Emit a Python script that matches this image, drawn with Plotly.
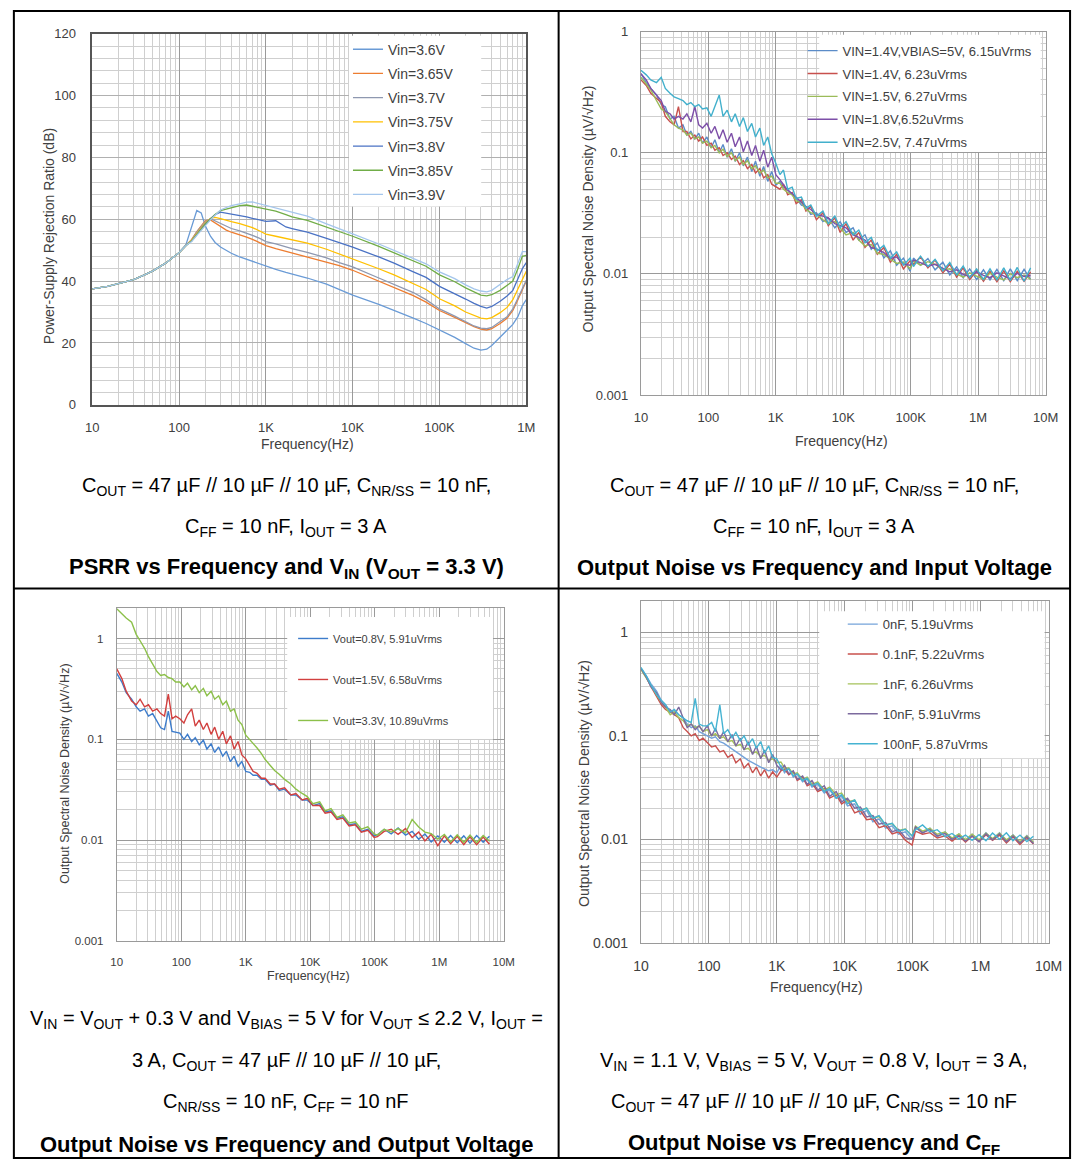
import plotly.graph_objects as go

W, H = 1087, 1168
FONT = "Arial, 'Liberation Sans', Helvetica, sans-serif"

# ---------------- Panel 1 : PSRR vs frequency and VIN ----------------
psrr_freq = [10, 15, 20, 30, 40, 50, 70, 100, 120, 140, 160, 180, 200, 230, 260, 300, 350, 400,
             500, 600, 700, 850, 1000, 1300, 1700, 2000, 3000, 5000, 7000, 10000, 20000, 30000,
             50000, 70000, 100000, 150000, 200000, 250000, 300000, 350000, 400000, 500000,
             600000, 700000, 800000, 900000, 1000000]
psrr_names = ["Vin=3.6V", "Vin=3.65V", "Vin=3.7V", "Vin=3.75V", "Vin=3.8V", "Vin=3.85V", "Vin=3.9V"]
psrr_colors = ["#6a9bd6", "#ed7d31", "#8e98b0", "#ffc000", "#4a72c4", "#70ad47", "#a4c6ec"]
psrr_36 = [37.5, 38.3, 39.2, 40.5, 42.0, 43.3, 45.8, 49.2, 51.8, 57.5, 62.8, 62.0, 58.0, 54.5, 52.5, 51.0,
           49.8, 49.0, 47.8, 47.0, 46.3, 45.5, 44.8, 43.8, 42.8, 42.3, 41.0, 39.0, 37.3, 35.5, 32.5, 30.6,
           28.0, 26.3, 24.3, 21.8, 19.8, 18.3, 17.7, 18.0, 19.2, 22.0, 24.2, 26.0, 28.5, 32.0, 34.0]
psrr_365 = [37.5, 38.3, 39.2, 40.5, 42.0, 43.3, 45.8, 49.2, 51.5, 53.5, 56.0, 58.0, 59.5, 59.8, 58.8, 57.5,
            56.5, 55.8, 55.0, 54.2, 53.5, 52.5, 51.5, 50.5, 49.6, 49.0, 47.8, 46.0, 45.0, 43.5, 40.0, 38.0,
            35.3, 33.2, 30.5, 28.3, 26.5, 25.3, 24.5, 24.2, 24.6, 26.3, 28.0, 30.5, 34.0, 37.5, 40.0]
psrr_37 = [37.5, 38.3, 39.2, 40.5, 42.0, 43.3, 45.8, 49.2, 51.5, 53.3, 55.8, 57.7, 59.2, 60.2, 59.5, 58.5,
           57.6, 57.0, 56.2, 55.5, 54.8, 53.8, 52.8, 52.0, 51.0, 50.5, 49.3, 47.5, 46.0, 44.6, 41.0, 39.0,
           36.3, 34.0, 31.0, 28.7, 26.8, 25.5, 24.8, 24.6, 25.0, 26.8, 28.5, 31.0, 34.5, 38.0, 40.3]
psrr_375 = [37.5, 38.3, 39.2, 40.5, 42.0, 43.3, 45.8, 49.2, 51.5, 53.2, 55.3, 57.2, 58.8, 60.3, 60.6, 60.2,
            59.6, 59.2, 58.6, 58.0, 57.3, 56.2, 55.2, 54.5, 53.8, 53.3, 52.3, 50.3, 48.8, 47.2, 44.0, 42.0,
            39.3, 37.3, 34.3, 32.0, 30.0, 28.8, 28.0, 27.8, 28.2, 29.8, 31.5, 34.0, 37.5, 41.0, 43.2]
psrr_38 = [37.5, 38.3, 39.2, 40.5, 42.0, 43.3, 45.8, 49.2, 51.5, 53.0, 55.0, 57.0, 58.5, 60.2, 61.5, 62.3,
           62.0, 61.6, 61.2, 60.8, 60.3, 59.8, 59.3, 59.5, 57.5, 57.0, 55.8, 53.8, 52.5, 51.0, 47.8, 45.8,
           43.0, 41.2, 38.3, 36.0, 34.2, 32.8, 31.8, 31.3, 31.8, 33.5, 35.2, 37.0, 40.5, 44.0, 46.0]
psrr_385 = [37.5, 38.3, 39.2, 40.5, 42.0, 43.3, 45.8, 49.2, 51.5, 53.0, 55.0, 56.8, 58.2, 60.0, 61.5, 62.8,
            63.3, 63.8, 64.4, 64.6, 64.2, 63.9, 63.5, 62.6, 61.5, 60.8, 59.6, 57.5, 56.0, 54.5, 51.2, 49.2,
            46.5, 44.8, 42.0, 39.8, 37.8, 36.5, 35.5, 35.2, 35.6, 37.0, 38.5, 40.0, 44.0, 48.0, 48.3]
psrr_39 = [37.5, 38.3, 39.2, 40.5, 42.0, 43.3, 45.8, 49.2, 51.5, 52.8, 54.8, 56.5, 58.0, 59.8, 61.3, 63.0,
           63.8, 64.4, 65.0, 65.5, 65.6, 65.0, 64.5, 63.8, 62.8, 62.3, 61.0, 58.5, 57.0, 55.3, 52.0, 50.0,
           47.3, 45.6, 43.0, 40.8, 38.8, 37.5, 36.8, 36.5, 37.0, 39.0, 40.5, 41.5, 45.5, 49.5, 49.5]
psrr_series = [psrr_36, psrr_365, psrr_37, psrr_375, psrr_38, psrr_385, psrr_39]

# ---------------- Noise panels : shared frequency grid ----------------
noise_freq = [10, 12, 14, 17, 20, 23, 27, 31, 36, 42, 48, 55, 63, 72, 82, 95, 110, 125, 145, 165,
              190, 220, 250, 290, 330, 380, 440, 500, 580, 660, 760, 870, 1000, 1150, 1300, 1500,
              1750, 2000, 2400, 2800, 3300, 4000, 5000, 6000, 7500, 9000, 11000, 14000, 17000,
              21000, 26000, 32000, 40000, 50000, 62000, 78000, 98000, 110000, 140000, 180000,
              230000, 300000, 380000, 480000, 600000, 750000, 950000, 1200000, 1500000, 1900000,
              2400000, 3000000, 3800000, 4800000, 6000000]

# Panel 2 : output noise vs input voltage
vin_names = ["VIN=1.4V,VBIAS=5V, 6.15uVrms", "VIN=1.4V, 6.23uVrms", "VIN=1.5V, 6.27uVrms",
             "VIN=1.8V,6.52uVrms", "VIN=2.5V, 7.47uVrms"]
vin_colors = ["#5b8cc8", "#c8504d", "#9bbb59", "#7d4fa8", "#42b0cc"]
vin_14b = [0.45, 0.38, 0.34, 0.30, 0.25, 0.24, 0.19, 0.20, 0.16, 0.17, 0.14, 0.15, 0.13, 0.145, 0.12,
           0.135, 0.11, 0.128, 0.10, 0.117, 0.092, 0.108, 0.085, 0.10, 0.078, 0.092, 0.07, 0.085, 0.064,
           0.077, 0.058, 0.07, 0.054,
           0.058, 0.052, 0.050, 0.045, 0.042, 0.037, 0.036, 0.031, 0.032, 0.027, 0.029, 0.024, 0.027,
           0.022, 0.024, 0.019, 0.021, 0.016, 0.018, 0.0135, 0.0155, 0.0118, 0.0135, 0.0105, 0.0135,
           0.0118, 0.0134, 0.0108, 0.0125, 0.0098, 0.0114, 0.0093, 0.0110, 0.0090, 0.0108, 0.0089,
           0.0109, 0.0088, 0.0110, 0.0088, 0.0109, 0.0090]
vin_14 = [0.40, 0.36, 0.31, 0.28, 0.26, 0.20, 0.18, 0.17, 0.24, 0.15, 0.15, 0.13, 0.14, 0.125, 0.135,
          0.115, 0.12, 0.105, 0.11, 0.095, 0.10, 0.088, 0.094, 0.08, 0.086, 0.074, 0.08, 0.068, 0.074,
          0.062, 0.066, 0.055, 0.052,
          0.050, 0.055, 0.045, 0.047, 0.038, 0.041, 0.033, 0.036, 0.028, 0.032, 0.025, 0.029, 0.022,
          0.026, 0.019, 0.022, 0.0165, 0.019, 0.0145, 0.0165, 0.0125, 0.0145, 0.0110, 0.0128, 0.0120,
          0.0138, 0.0112, 0.0130, 0.0102, 0.0120, 0.0094, 0.0112, 0.0090, 0.0106, 0.0087, 0.0105,
          0.0086, 0.0106, 0.0086, 0.0105, 0.0087, 0.0104]
vin_15 = [0.42, 0.37, 0.33, 0.27, 0.23, 0.22, 0.19, 0.17, 0.16, 0.155, 0.14, 0.145, 0.13, 0.135, 0.12,
          0.125, 0.11, 0.115, 0.10, 0.107, 0.093, 0.10, 0.086, 0.092, 0.08, 0.086, 0.074, 0.078, 0.068,
          0.072, 0.062, 0.064, 0.056,
          0.056, 0.050, 0.047, 0.045, 0.040, 0.039, 0.034, 0.032, 0.031, 0.028, 0.026, 0.027, 0.024,
          0.021, 0.022, 0.019, 0.017, 0.0175, 0.0148, 0.0145, 0.0132, 0.0122, 0.0125, 0.0110, 0.0128,
          0.0118, 0.0126, 0.0120, 0.0108, 0.0110, 0.0100, 0.0094, 0.0102, 0.0096, 0.0090, 0.0101,
          0.0094, 0.0089, 0.0100, 0.0093, 0.0098, 0.0090]
vin_18 = [0.45, 0.40, 0.34, 0.30, 0.27, 0.22, 0.21, 0.19, 0.20, 0.19, 0.21, 0.18, 0.24, 0.17, 0.16,
          0.175, 0.145, 0.165, 0.13, 0.155, 0.122, 0.145, 0.112, 0.135, 0.102, 0.125, 0.095, 0.115,
          0.085, 0.105, 0.076, 0.092, 0.066,
          0.060, 0.054, 0.049, 0.046, 0.043, 0.039, 0.036, 0.034, 0.031, 0.030, 0.029, 0.026, 0.025,
          0.024, 0.021, 0.020, 0.019, 0.0165, 0.0160, 0.0150, 0.0134, 0.0138, 0.0120, 0.0118, 0.0130,
          0.0124, 0.0116, 0.0120, 0.0112, 0.0104, 0.0108, 0.0099, 0.0095, 0.0104, 0.0097, 0.0093,
          0.0102, 0.0096, 0.0091, 0.0101, 0.0095, 0.0097]
vin_25 = [0.48, 0.44, 0.40, 0.38, 0.42, 0.34, 0.31, 0.29, 0.28, 0.27, 0.25, 0.26, 0.24, 0.25, 0.23,
          0.235, 0.20, 0.245, 0.30, 0.20, 0.225, 0.18, 0.21, 0.165, 0.195, 0.15, 0.175, 0.135, 0.16,
          0.115, 0.135, 0.098, 0.082,
          0.066, 0.072, 0.050, 0.052, 0.042, 0.043, 0.035, 0.037, 0.030, 0.033, 0.026, 0.030, 0.024,
          0.027, 0.021, 0.023, 0.018, 0.020, 0.0155, 0.0172, 0.0135, 0.0152, 0.0118, 0.0135, 0.0115,
          0.0140, 0.0115, 0.0132, 0.0106, 0.0124, 0.0098, 0.0116, 0.0093, 0.0110, 0.0090, 0.0110,
          0.0089, 0.0112, 0.0088, 0.0113, 0.0087, 0.0112]
vin_series = [vin_14b, vin_14, vin_15, vin_18, vin_25]

# Panel 3 : output noise vs output voltage
vout_names = ["Vout=0.8V, 5.91uVrms", "Vout=1.5V, 6.58uVrms", "Vout=3.3V, 10.89uVrms"]
vout_colors = ["#3d7ccb", "#d2403f", "#8cc04a"]
vout_08 = [0.45, 0.37, 0.29, 0.25, 0.21, 0.19, 0.20, 0.17, 0.18, 0.15, 0.13, 0.125, 0.19, 0.12, 0.118,
           0.115, 0.10, 0.112, 0.095, 0.104, 0.088, 0.098, 0.08, 0.09, 0.074, 0.084, 0.068, 0.076, 0.06,
           0.068, 0.054, 0.06, 0.048,
           0.047, 0.044, 0.044, 0.040, 0.040, 0.035, 0.036, 0.031, 0.032, 0.028, 0.028, 0.025, 0.025,
           0.022, 0.023, 0.019, 0.0195, 0.0165, 0.017, 0.0142, 0.0145, 0.0122, 0.0128, 0.0110, 0.0113,
           0.0128, 0.0115, 0.0132, 0.0112, 0.0122, 0.0102, 0.0115, 0.0096, 0.0110, 0.0095, 0.0111,
           0.0094, 0.0110, 0.0093, 0.0111, 0.0095, 0.0109]
vout_15 = [0.50, 0.40, 0.30, 0.24, 0.22, 0.25, 0.21, 0.22, 0.19, 0.20, 0.18, 0.17, 0.28, 0.16, 0.17,
           0.16, 0.145, 0.175, 0.2, 0.135, 0.155, 0.125, 0.145, 0.112, 0.132, 0.1, 0.12, 0.09, 0.108,
           0.08, 0.095, 0.07, 0.064,
           0.055, 0.048, 0.046, 0.041, 0.041, 0.036, 0.036, 0.032, 0.033, 0.028, 0.029, 0.025, 0.026,
           0.022, 0.022, 0.0185, 0.019, 0.016, 0.0165, 0.0138, 0.0142, 0.012, 0.0125, 0.0106, 0.0108,
           0.0122, 0.0128, 0.0114, 0.0130, 0.0106, 0.0120, 0.0098, 0.0114, 0.0088, 0.0110, 0.0092,
           0.0109, 0.0090, 0.0108, 0.0090, 0.0107, 0.0091]
vout_33 = [1.97, 1.75, 1.6, 1.45, 1.1, 0.95, 0.8, 0.66, 0.55, 0.47, 0.43, 0.44, 0.41, 0.40, 0.37,
           0.37, 0.33, 0.36, 0.31, 0.34, 0.29, 0.32, 0.27, 0.30, 0.25, 0.27, 0.22, 0.24, 0.19, 0.20,
           0.155, 0.14, 0.11,
           0.10, 0.092, 0.082, 0.072, 0.063, 0.055, 0.049, 0.045, 0.040, 0.036, 0.032, 0.029, 0.027,
           0.023, 0.024, 0.0195, 0.0205, 0.0168, 0.0178, 0.0148, 0.0152, 0.0128, 0.0135, 0.0115, 0.0112,
           0.0128, 0.0120, 0.0130, 0.0118, 0.016, 0.0135, 0.0120, 0.0116, 0.0102, 0.0114, 0.0096,
           0.0113, 0.0095, 0.0112, 0.0094, 0.0111, 0.0098]
vout_series = [vout_08, vout_15, vout_33]

# Panel 4 : output noise vs CFF
cff_names = ["0nF, 5.19uVrms", "0.1nF, 5.22uVrms", "1nF, 6.26uVrms", "10nF, 5.91uVrms", "100nF, 5.87uVrms"]
cff_colors = ["#74a3da", "#c8504d", "#a5c25a", "#7c6a9e", "#45b3d2"]
cff_0 = [0.45, 0.38, 0.32, 0.27, 0.22, 0.20, 0.17, 0.175, 0.16, 0.15, 0.13, 0.12, 0.125, 0.11, 0.105,
         0.1, 0.095, 0.098, 0.088, 0.085, 0.08, 0.074, 0.07, 0.066, 0.062, 0.058, 0.055, 0.052, 0.05,
         0.048, 0.046, 0.047, 0.044,
         0.052, 0.044, 0.049, 0.040, 0.043, 0.036, 0.038, 0.032, 0.034, 0.028, 0.030, 0.025, 0.026,
         0.021, 0.022, 0.0175, 0.019, 0.0148, 0.0158, 0.0128, 0.0135, 0.0112, 0.0118, 0.0100, 0.0130,
         0.0115, 0.0128, 0.0106, 0.0118, 0.0099, 0.0113, 0.0096, 0.0112, 0.0097, 0.0116, 0.0100,
         0.0116, 0.0096, 0.0111, 0.0093, 0.0109, 0.0093]
cff_01 = [0.45, 0.37, 0.30, 0.24, 0.20, 0.18, 0.17, 0.16, 0.15, 0.12, 0.11, 0.10, 0.105, 0.09, 0.095,
          0.085, 0.078, 0.08, 0.07, 0.072, 0.062, 0.066, 0.055, 0.06, 0.049, 0.054, 0.044, 0.05, 0.041,
          0.047, 0.039, 0.045, 0.04,
          0.046, 0.048, 0.042, 0.045, 0.037, 0.040, 0.033, 0.035, 0.029, 0.031, 0.025, 0.027, 0.022,
          0.024, 0.018, 0.019, 0.0155, 0.0158, 0.0130, 0.0136, 0.0113, 0.0118, 0.0098, 0.0088, 0.0120,
          0.0112, 0.0116, 0.0103, 0.0108, 0.0096, 0.0108, 0.0094, 0.0107, 0.0095, 0.0111, 0.0098,
          0.0110, 0.0092, 0.0106, 0.0089, 0.0104, 0.0090]
cff_1 = [0.44, 0.36, 0.31, 0.25, 0.21, 0.19, 0.16, 0.17, 0.15, 0.14, 0.125, 0.13, 0.12, 0.125, 0.11,
         0.115, 0.1, 0.105, 0.095, 0.098, 0.088, 0.09, 0.08, 0.083, 0.074, 0.076, 0.068, 0.07, 0.063,
         0.065, 0.058, 0.06, 0.055,
         0.056, 0.049, 0.049, 0.043, 0.044, 0.038, 0.040, 0.034, 0.036, 0.030, 0.032, 0.027, 0.028,
         0.023, 0.024, 0.019, 0.020, 0.0160, 0.0166, 0.0138, 0.0142, 0.0122, 0.0126, 0.0108, 0.0134,
         0.0120, 0.0128, 0.0112, 0.0118, 0.0103, 0.0113, 0.0099, 0.0112, 0.0099, 0.0115, 0.0102,
         0.0115, 0.0099, 0.0110, 0.0095, 0.0108, 0.0094]
cff_10 = [0.45, 0.37, 0.30, 0.26, 0.21, 0.19, 0.18, 0.16, 0.19, 0.15, 0.12, 0.13, 0.115, 0.125, 0.11,
          0.125, 0.1, 0.118, 0.094, 0.11, 0.088, 0.103, 0.08, 0.095, 0.073, 0.088, 0.066, 0.08, 0.06,
          0.073, 0.055, 0.066, 0.052,
          0.047, 0.052, 0.043, 0.046, 0.038, 0.041, 0.034, 0.037, 0.030, 0.033, 0.026, 0.029, 0.023,
          0.025, 0.020, 0.0205, 0.0165, 0.017, 0.0140, 0.0145, 0.0118, 0.0125, 0.0104, 0.0100, 0.0132,
          0.0116, 0.0124, 0.0108, 0.0114, 0.0100, 0.0109, 0.0096, 0.0108, 0.0095, 0.0113, 0.0099,
          0.0113, 0.0095, 0.0108, 0.0092, 0.0106, 0.0091]
cff_100 = [0.46, 0.38, 0.31, 0.25, 0.22, 0.2, 0.17, 0.18, 0.16, 0.15, 0.14, 0.135, 0.23, 0.13, 0.125,
           0.125, 0.135, 0.11, 0.2, 0.105, 0.115, 0.096, 0.108, 0.09, 0.1, 0.082, 0.094, 0.076, 0.088,
           0.068, 0.08, 0.062, 0.06,
           0.050, 0.046, 0.048, 0.041, 0.043, 0.037, 0.039, 0.033, 0.035, 0.029, 0.031, 0.025, 0.027,
           0.022, 0.024, 0.019, 0.020, 0.016, 0.017, 0.0138, 0.0143, 0.0120, 0.0125, 0.0108, 0.0124,
           0.0138, 0.0118, 0.0124, 0.0106, 0.0114, 0.0101, 0.0110, 0.0098, 0.0111, 0.0097, 0.0115,
           0.0100, 0.0116, 0.0097, 0.0110, 0.0095, 0.0107]
cff_series = [cff_0, cff_01, cff_1, cff_10, cff_100]

# tick labels
x_tick_vals = [10, 100, 1000, 10000, 100000, 1000000, 10000000]
x_tick_text = ["10", "100", "1K", "10K", "100K", "1M", "10M"]
y_log_vals = [0.001, 0.01, 0.1, 1]
y_log_text = ["0.001", "0.01", "0.1", "1"]
psrr_ticks = [0, 20, 40, 60, 80, 100, 120]


def fx(p):
    return p / W


def fy(p):
    return 1 - p / H


fig = go.Figure()


def add_series(freq, series, names, colors, xa, ya, leg, width):
    for i, (s, n, c) in enumerate(zip(series, names, colors)):
        fig.add_trace(go.Scatter(x=freq[:len(s)], y=s, name=n, mode="lines",
                                 line=dict(color=c, width=width),
                                 xaxis=xa, yaxis=ya, legend=leg,
                                 legendgroup=f"{leg}_{i}", hoverinfo="skip"))


add_series(psrr_freq, psrr_series, psrr_names, psrr_colors, "x", "y", "legend", 1.3)
add_series(noise_freq, vin_series, vin_names, vin_colors, "x2", "y2", "legend2", 1.4)
add_series(noise_freq, vout_series, vout_names, vout_colors, "x3", "y3", "legend3", 1.4)
add_series(noise_freq, cff_series, cff_names, cff_colors, "x4", "y4", "legend4", 1.4)


def log_x(px0, px1, rng, anchor, fsize, linecol, lw, standoff):
    return dict(type="log", domain=[fx(px0), fx(px1)], range=rng, anchor=anchor,
                tickmode="array", tickvals=x_tick_vals, ticktext=x_tick_text,
                ticks="", ticklabelstandoff=standoff,
                tickfont=dict(family=FONT, size=fsize, color="#404040"),
                showgrid=True, gridcolor="#9a9a9a", gridwidth=1,
                minor=dict(dtick="D1", showgrid=True, gridcolor="#cfcfcf", gridwidth=1),
                showline=True, linecolor=linecol, linewidth=lw, mirror=True,
                zeroline=False, fixedrange=True)


def log_y(py0, py1, rng, anchor, fsize, linecol, lw, standoff):
    return dict(type="log", domain=[fy(py1), fy(py0)], range=rng, anchor=anchor,
                tickmode="array", tickvals=y_log_vals, ticktext=y_log_text,
                ticks="", ticklabelstandoff=standoff,
                tickfont=dict(family=FONT, size=fsize, color="#404040"),
                showgrid=True, gridcolor="#9a9a9a", gridwidth=1,
                minor=dict(dtick="D1", showgrid=True, gridcolor="#cfcfcf", gridwidth=1),
                showline=True, linecolor=linecol, linewidth=lw, mirror=True,
                zeroline=False, fixedrange=True)


# panel pixel boxes
P1 = (86, 529, 27, 403)
P2 = (646, 1059, 25, 393)
P3 = (111, 506, 609, 946)
P4 = (646, 1062, 602, 948)

layout = dict(
    width=W, height=H, margin=dict(l=0, r=0, t=0, b=0),
    paper_bgcolor="white", plot_bgcolor="white", showlegend=True,
    font=dict(family=FONT, color="#000000"),
    xaxis=log_x(P1[0], P1[1], [1, 6], "y", 13, "#555555", 1.5, 10),
    yaxis=dict(type="linear", domain=[fy(P1[3]), fy(P1[2])], range=[0, 120], anchor="x",
               tickmode="array", tickvals=psrr_ticks, ticks="", ticklabelstandoff=12,
               tickfont=dict(family=FONT, size=13, color="#404040"),
               showgrid=True, gridcolor="#b0b0b0", gridwidth=1,
               minor=dict(dtick=4, tick0=0, showgrid=True, gridcolor="#cfcfcf", gridwidth=1),
               showline=True, linecolor="#555555", linewidth=1.5, mirror=True,
               zeroline=False, fixedrange=True),
    xaxis2=log_x(P2[0], P2[1], [1, 7], "y2", 13, "#9a9a9a", 1, 10),
    yaxis2=log_y(P2[2], P2[3], [-3, 0], "x2", 13, "#9a9a9a", 1, 9),
    xaxis3=log_x(P3[0], P3[1], [1, 7], "y3", 11.5, "#9a9a9a", 1, 10),
    yaxis3=log_y(P3[2], P3[3], [-3, 0.301], "x3", 11.5, "#9a9a9a", 1, 10),
    xaxis4=log_x(P4[0], P4[1], [1, 7], "y4", 14, "#9a9a9a", 1, 10),
    yaxis4=log_y(P4[2], P4[3], [-3, 0.301], "x4", 14, "#9a9a9a", 1, 9),
    legend=dict(x=fx(347), y=fy(27), xanchor="left", yanchor="top", bgcolor="rgba(0,0,0,0)",
                font=dict(family=FONT, size=14, color="#404040"), tracegroupgap=3,
                traceorder="grouped", borderwidth=0),
    legend2=dict(x=fx(811), y=fy(29), xanchor="left", yanchor="top", bgcolor="rgba(0,0,0,0)",
                 font=dict(family=FONT, size=13, color="#404040"), tracegroupgap=3,
                 traceorder="grouped", borderwidth=0),
    legend3=dict(x=fx(291), y=fy(625), xanchor="left", yanchor="top", bgcolor="rgba(0,0,0,0)",
                 font=dict(family=FONT, size=11, color="#404040"), tracegroupgap=22,
                 traceorder="grouped", borderwidth=0),
    legend4=dict(x=fx(852), y=fy(610), xanchor="left", yanchor="top", bgcolor="rgba(0,0,0,0)",
                 font=dict(family=FONT, size=13, color="#404040"), tracegroupgap=10,
                 traceorder="grouped", borderwidth=0),
)


def box_shape(bx0, bx1, by0, by1):
    # white legend background box (legend itself is drawn above shapes)
    return dict(type="rect", xref="paper", yref="paper", layer="above",
                x0=fx(bx0), x1=fx(bx1), y0=fy(by1), y1=fy(by0),
                fillcolor="white", line=dict(width=0))


shapes = [
    box_shape(348, 483, 29, 202),
    box_shape(828, 1054, 28, 147),
    box_shape(285, 495, 618, 742),
    box_shape(828, 1058, 612, 761),
    # table borders
    dict(type="rect", xref="paper", yref="paper", x0=fx(6), x1=fx(1084), y0=fy(1166), y1=fy(4),
         line=dict(color="black", width=2), layer="above"),
    dict(type="line", xref="paper", yref="paper", x0=fx(562), x1=fx(562), y0=fy(1166), y1=fy(4),
         line=dict(color="black", width=2), layer="above"),
    dict(type="line", xref="paper", yref="paper", x0=fx(6), x1=fx(1084), y0=fy(589), y1=fy(589),
         line=dict(color="black", width=2), layer="above"),
]

annotations = []


def note(xp, yp, text, size, color="#000000", angle=0, bold=False):
    if bold:
        text = f"<b>{text}</b>"
    annotations.append(dict(x=fx(xp), y=fy(yp), xref="paper", yref="paper", text=text,
                            showarrow=False, xanchor="center", yanchor="middle",
                            textangle=angle, font=dict(family=FONT, size=size, color=color)))


# axis titles
note(42, 232, "Power-Supply Rejection Ratio (dB)", 14, "#404040", -90)
note(306, 443, "Frequency(Hz)", 14, "#404040")
note(592, 205, "Output Spectral Noise Density (µV/√Hz)", 14, "#404040", -90)
note(851, 440, "Frequency(Hz)", 14, "#404040")
note(58, 777, "Output Spectral Noise Density (µV/√Hz)", 12.5, "#404040", -90)
note(307, 982, "Frequency(Hz)", 12.5, "#404040")
note(588, 787, "Output Spectral Noise Density (µV/√Hz)", 14, "#404040", -90)
note(825, 993, "Frequency(Hz)", 14, "#404040")

# captions
cout_line = "C<sub>OUT</sub> = 47 µF // 10 µF // 10 µF, C<sub>NR/SS</sub> = 10 nF,"
cff_line = "C<sub>FF</sub> = 10 nF, I<sub>OUT</sub> = 3 A"
LC, RC = 284, 823
note(LC, 486, cout_line, 20)
note(LC, 527, cff_line, 20)
note(LC, 568, "PSRR vs Frequency and V<sub>IN</sub> (V<sub>OUT</sub> = 3.3 V)", 22, bold=True)
note(RC, 486, cout_line, 20)
note(RC, 527, cff_line, 20)
note(RC, 568, "Output Noise vs Frequency and Input Voltage", 22, bold=True)
note(LC, 1026, "V<sub>IN</sub> = V<sub>OUT</sub> + 0.3 V and V<sub>BIAS</sub> = 5 V for "
               "V<sub>OUT</sub> ≤ 2.2 V, I<sub>OUT</sub> =", 20)
note(LC, 1068, "3 A, C<sub>OUT</sub> = 47 µF // 10 µF // 10 µF,", 20)
note(LC, 1110, "C<sub>NR/SS</sub> = 10 nF, C<sub>FF</sub> = 10 nF", 20)
note(LC, 1152, "Output Noise vs Frequency and Output Voltage", 22, bold=True)
note(RC, 1068, "V<sub>IN</sub> = 1.1 V, V<sub>BIAS</sub> = 5 V, V<sub>OUT</sub> = 0.8 V, "
               "I<sub>OUT</sub> = 3 A,", 20)
note(RC, 1110, "C<sub>OUT</sub> = 47 µF // 10 µF // 10 µF, C<sub>NR/SS</sub> = 10 nF", 20)
note(RC, 1152, "Output Noise vs Frequency and C<sub>FF</sub>", 22, bold=True)

layout["shapes"] = shapes
layout["annotations"] = annotations
fig.update_layout(**layout)

fig.write_html("out.html")
